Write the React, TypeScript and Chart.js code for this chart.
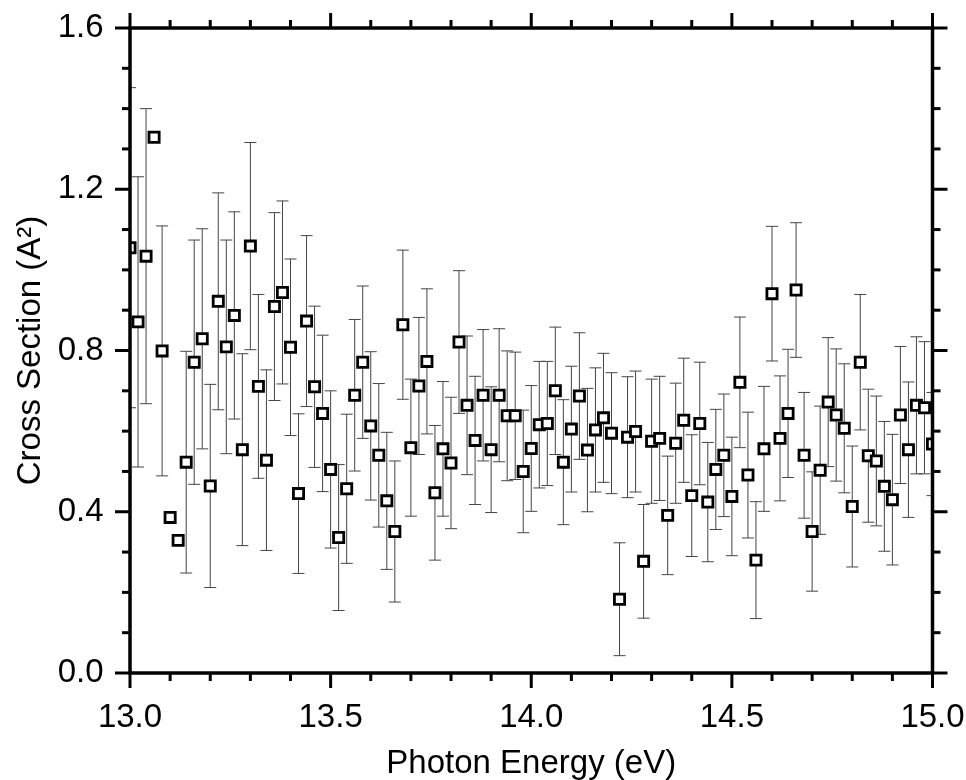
import React, { useEffect, useRef } from 'react';
import { Chart, registerables } from 'chart.js';

Chart.register(...registerables);

const energies = [
  13.00, 13.02, 13.04, 13.06, 13.08, 13.10, 13.12, 13.14, 13.16, 13.18,
  13.20, 13.22, 13.24, 13.26, 13.28, 13.30, 13.32, 13.34, 13.36, 13.38,
  13.40, 13.42, 13.44, 13.46, 13.48, 13.50, 13.52, 13.54, 13.56, 13.58,
  13.60, 13.62, 13.64, 13.66, 13.68, 13.70, 13.72, 13.74, 13.76, 13.78,
  13.80, 13.82, 13.84, 13.86, 13.88, 13.90, 13.92, 13.94, 13.96, 13.98,
  14.00, 14.02, 14.04, 14.06, 14.08, 14.10, 14.12, 14.14, 14.16, 14.18,
  14.20, 14.22, 14.24, 14.26, 14.28, 14.30, 14.32, 14.34, 14.36, 14.38,
  14.40, 14.42, 14.44, 14.46, 14.48, 14.50, 14.52, 14.54, 14.56, 14.58,
  14.60, 14.62, 14.64, 14.66, 14.68, 14.70, 14.72, 14.74, 14.76, 14.78,
  14.80, 14.82, 14.84, 14.86, 14.88, 14.90, 14.92, 14.94, 14.96, 14.98,
  15.00,
];

const crossSection = [
  1.055, 0.871, 1.034, 1.329, 0.799, 0.386, 0.329, 0.523, 0.771, 0.829,
  0.464, 0.922, 0.809, 0.887, 0.554, 1.059, 0.711, 0.528, 0.909, 0.944,
  0.808, 0.445, 0.873, 0.710, 0.644, 0.505, 0.336, 0.457, 0.689, 0.771,
  0.613, 0.540, 0.427, 0.351, 0.864, 0.559, 0.712, 0.773, 0.447, 0.556,
  0.521, 0.821, 0.664, 0.577, 0.689, 0.554, 0.689, 0.638, 0.638, 0.500,
  0.557, 0.616, 0.619, 0.700, 0.523, 0.605, 0.687, 0.553, 0.603, 0.633,
  0.595, 0.183, 0.585, 0.599, 0.277, 0.575, 0.582, 0.391, 0.570, 0.627,
  0.440, 0.619, 0.424, 0.505, 0.540, 0.438, 0.721, 0.491, 0.280, 0.556,
  0.941, 0.582, 0.644, 0.950, 0.540, 0.351, 0.503, 0.672, 0.640, 0.607,
  0.413, 0.771, 0.539, 0.526, 0.463, 0.430, 0.640, 0.554, 0.664, 0.658,
  0.568,
];

const crossSectionErr = [
  0.397, 0.360, 0.366, 0.000, 0.310, 0.000, 0.000, 0.275, 0.303, 0.273,
  0.252, 0.269, 0.265, 0.257, 0.238, 0.257, 0.228, 0.224, 0.233, 0.227,
  0.219, 0.198, 0.212, 0.200, 0.194, 0.195, 0.181, 0.185, 0.188, 0.189,
  0.184, 0.178, 0.170, 0.175, 0.185, 0.170, 0.170, 0.180, 0.167, 0.167,
  0.163, 0.177, 0.172, 0.159, 0.163, 0.156, 0.165, 0.161, 0.158, 0.152,
  0.156, 0.157, 0.154, 0.158, 0.155, 0.156, 0.157, 0.153, 0.154, 0.160,
  0.150, 0.140, 0.150, 0.150, 0.141, 0.154, 0.154, 0.147, 0.149, 0.154,
  0.151, 0.152, 0.148, 0.149, 0.152, 0.147, 0.162, 0.156, 0.145, 0.155,
  0.167, 0.155, 0.159, 0.167, 0.156, 0.148, 0.159, 0.160, 0.164, 0.160,
  0.150, 0.168, 0.165, 0.161, 0.161, 0.162, 0.170, 0.168, 0.170, 0.164,
  0.128,
];

const xMajorTicks = [13.0, 13.5, 14.0, 14.5, 15.0];
const yMajorTicks = [0.0, 0.4, 0.8, 1.2, 1.6];
const xTitle = 'Photon Energy (eV)';
const yTitle = 'Cross Section (A²)';

const FONT = '"Liberation Sans", Arial, Helvetica, sans-serif';

const isMajor = (list: number[], v: number) => list.some((m) => Math.abs(m - v) < 1e-6);

const errorBarPlugin = {
  id: 'errorBars',
  beforeDatasetsDraw(chart: any) {
    const { ctx, chartArea, scales } = chart;
    const xs = scales.x;
    const ys = scales.y;
    ctx.save();
    ctx.beginPath();
    ctx.rect(chartArea.left, chartArea.top, chartArea.right - chartArea.left, chartArea.bottom - chartArea.top);
    ctx.clip();
    ctx.strokeStyle = '#454545';
    ctx.lineWidth = 1;
    const cap = 6;
    for (let i = 0; i < energies.length; i++) {
      const e = crossSectionErr[i];
      if (!e) continue;
      const px = xs.getPixelForValue(energies[i]);
      const yt = ys.getPixelForValue(crossSection[i] + e);
      const yb = ys.getPixelForValue(crossSection[i] - e);
      ctx.beginPath();
      ctx.moveTo(px, yt);
      ctx.lineTo(px, yb);
      ctx.moveTo(px - cap, yt);
      ctx.lineTo(px + cap, yt);
      ctx.moveTo(px - cap, yb);
      ctx.lineTo(px + cap, yb);
      ctx.stroke();
    }
    ctx.restore();
  },
};

const framePlugin = {
  id: 'frame',
  afterDraw(chart: any) {
    const { ctx, chartArea, scales } = chart;
    const { left, right, top, bottom } = chartArea;
    const xs = scales.x;
    const ys = scales.y;
    ctx.save();
    ctx.strokeStyle = '#000';
    ctx.lineCap = 'butt';
    ctx.lineWidth = 3;
    const line = (x1: number, y1: number, x2: number, y2: number) => {
      ctx.beginPath();
      ctx.moveTo(x1, y1);
      ctx.lineTo(x2, y2);
      ctx.stroke();
    };
    xs.ticks.forEach((t: any) => {
      const px = xs.getPixelForValue(t.value);
      const L = isMajor(xMajorTicks, t.value) ? 15 : 8;
      line(px, bottom, px, bottom + L);
      line(px, top, px, top - L);
    });
    ys.ticks.forEach((t: any) => {
      const py = ys.getPixelForValue(t.value);
      const L = isMajor(yMajorTicks, t.value) ? 15 : 8;
      line(left, py, left - L, py);
      line(right, py, right + L, py);
    });
    ctx.lineWidth = 3.5;
    ctx.strokeRect(left, top, right - left, bottom - top);
    ctx.restore();
  },
};

export default function App() {
  const ref = useRef<HTMLCanvasElement | null>(null);

  useEffect(() => {
    if (!ref.current) return;
    const points = energies.map((x, i) => ({ x, y: crossSection[i] }));
    const chart = new Chart(ref.current, {
      type: 'scatter',
      data: {
        datasets: [
          {
            data: points,
            showLine: false,
            pointStyle: 'rect',
            pointRadius: 7.2,
            pointHoverRadius: 7.2,
            borderWidth: 2.8,
            pointBorderWidth: 2.8,
            borderColor: '#000',
            pointBorderColor: '#000',
            backgroundColor: '#fff',
            pointBackgroundColor: '#fff',
            clip: 0,
          } as any,
        ],
      },
      options: {
        animation: false,
        responsive: false,
        events: [],
        layout: { padding: { top: 28, right: 33.5, left: 0, bottom: 0 } },
        plugins: {
          legend: { display: false },
          tooltip: { enabled: false },
        },
        scales: {
          x: {
            type: 'linear',
            min: 13,
            max: 15,
            afterFit: (s: any) => {
              s.height = 107;
              s.paddingLeft = 0;
              s.paddingRight = 0;
            },
            grid: { display: false, drawTicks: false },
            border: { display: false },
            ticks: {
              stepSize: 0.1,
              maxTicksLimit: 100,
              autoSkip: false,
              maxRotation: 0,
              padding: 25,
              color: '#000',
              font: { family: FONT, size: 33 },
              callback: (v: any) => (isMajor(xMajorTicks, Number(v)) ? Number(v).toFixed(1) : ''),
            },
            title: {
              display: true,
              text: xTitle,
              color: '#000',
              font: { family: FONT, size: 33, lineHeight: 1 },
              padding: { top: 0, bottom: 0 },
            },
          },
          y: {
            type: 'linear',
            min: 0,
            max: 1.6,
            afterFit: (s: any) => {
              s.width = 130;
              s.paddingTop = 0;
              s.paddingBottom = 0;
            },
            grid: { display: false, drawTicks: false },
            border: { display: false },
            ticks: {
              stepSize: 0.1,
              maxTicksLimit: 100,
              autoSkip: false,
              padding: 26.5,
              color: '#000',
              font: { family: FONT, size: 33 },
              callback: (v: any) => (isMajor(yMajorTicks, Number(v)) ? Number(v).toFixed(1) : ''),
            },
            title: {
              display: true,
              text: yTitle,
              color: '#000',
              font: { family: FONT, size: 33, lineHeight: 1 },
              padding: { top: 14, bottom: 0 },
            },
          },
        },
      },
      plugins: [errorBarPlugin, framePlugin],
    } as any);
    return () => chart.destroy();
  }, []);

  return (
    <div style={{ position: 'absolute', left: 0, top: 0, width: 966, height: 780, background: '#fff' }}>
      <canvas ref={ref} width={966} height={780} style={{ display: 'block' }} />
    </div>
  );
}
